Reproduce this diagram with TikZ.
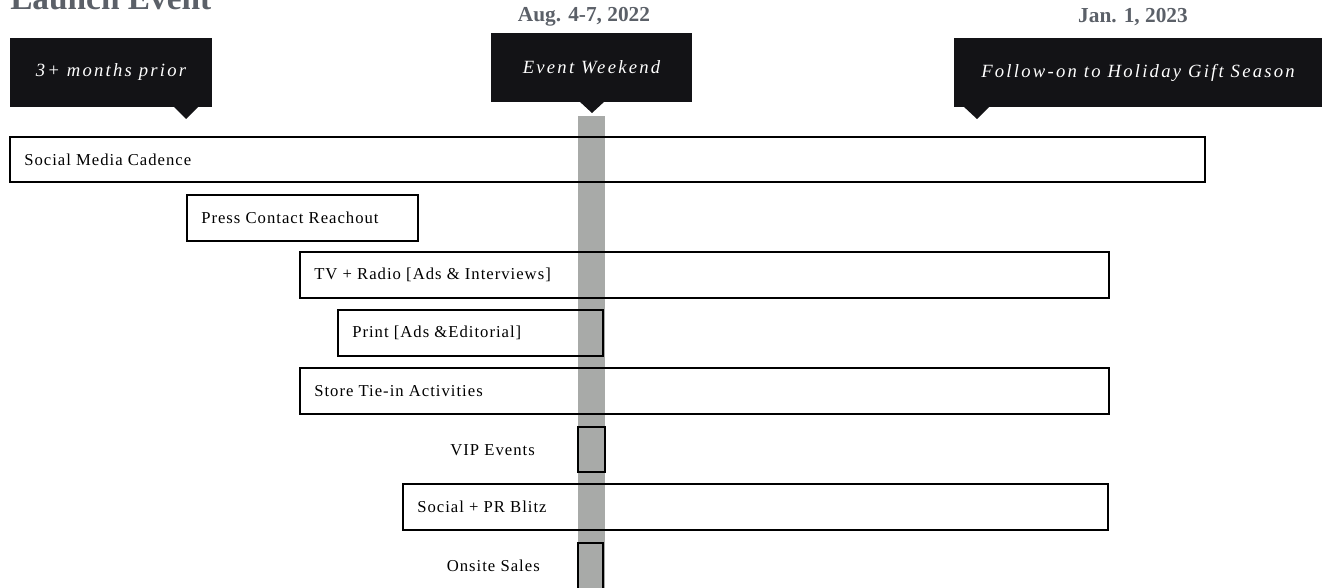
\documentclass[tikz,border=0pt]{standalone}
\usepackage{fontspec}
\setmainfont{Liberation Serif}
\newfontfamily\barfont[LetterSpace=6]{Liberation Serif}
\newfontfamily\callfont[LetterSpace=12]{Liberation Serif}
\definecolor{callbg}{HTML}{131316}
\definecolor{bandcol}{HTML}{A8AAA8}
\definecolor{datecol}{HTML}{5B6068}
\newcommand{\gbar}[6]{%
  \node[bar, minimum width={(#4-#2)*0.75pt}, minimum height={(#5-#3)*0.75pt}] (#1) at (#2,#3) {};
  \node[bartext] (#1-t) at ([xshift=14*0.75pt]#1.west) {#6};}
\begin{document}
\begin{tikzpicture}[x=0.75pt,y=-0.75pt,
  bar/.style={draw=black, line width=1.6pt, rectangle, inner sep=0pt, outer sep=0pt, anchor=north west},
  bartext/.style={anchor=west, inner sep=0pt, font=\barfont\fontsize{12.5}{14}\selectfont},
  callout/.style={fill=callbg, rectangle, inner sep=0pt, outer sep=0pt, anchor=north west},
  calltext/.style={text=white, inner sep=0pt, font=\callfont\itshape\fontsize{14}{16}\selectfont},
  datetext/.style={text=datecol, inner sep=0pt, font=\bfseries\fontsize{16}{18}\selectfont},
  titletext/.style={text=datecol, inner sep=0pt, font=\bfseries\fontsize{25}{28}\selectfont}]
\useasboundingbox (0,0) rectangle (1326,588);

% title (cut off at top, as in the reference)
\node[titletext, anchor=base west] (title) at (10,10) {Launch Event};

% dates
\node[datetext] (d1) at (584,17) {Aug. 4-7, 2022};
\node[datetext] (d2) at (1133,17) {Jan. 1, 2023};

% event band
\fill[bandcol] (578,116) rectangle (605,592);

% callouts
\node[callout, minimum width={202*0.75pt}, minimum height={69*0.75pt}] (c1) at (10,38) {};
\fill[callbg] (173,106) -- (199,106) -- (186,119) -- cycle;
\node[calltext] (c1-t) at (c1.center) {3+ months prior};

\node[callout, minimum width={201*0.75pt}, minimum height={69*0.75pt}] (c2) at (491,33) {};
\fill[callbg] (579,101) -- (605,101) -- (592,113) -- cycle;
\node[calltext] (c2-t) at (c2.center) {Event Weekend};

\node[callout, minimum width={368*0.75pt}, minimum height={69*0.75pt}] (c3) at (954,38) {};
\fill[callbg] (963,106) -- (990,106) -- (977,119) -- cycle;
\node[calltext] (c3-t) at (c3.center) {Follow-on to Holiday Gift Season};

% bars
\gbar{smc}{10}{137}{1205}{182}{Social Media Cadence}
\gbar{pcr}{187}{195}{418}{241}{Press Contact Reachout}
\gbar{tvr}{300}{252}{1109}{298}{TV + Radio [Ads \& Interviews]}
\gbar{prt}{338}{310}{603}{356}{Print [Ads \&Editorial]}
\gbar{sta}{300}{368}{1109}{414}{Store Tie-in Activities}
\gbar{spr}{403}{484}{1108}{530}{Social + PR Blitz}

\node[bar, fill=bandcol, minimum width={27*0.75pt}, minimum height={45*0.75pt}] (vip) at (578,427) {};
\node[bartext, anchor=east] (vip-t) at (535,450) {VIP Events};
\node[bar, fill=bandcol, minimum width={25*0.75pt}, minimum height={46*0.75pt}] (ons) at (578,543) {};
\node[bartext, anchor=east] (ons-t) at (540,566) {Onsite Sales};
\end{tikzpicture}
\end{document}
